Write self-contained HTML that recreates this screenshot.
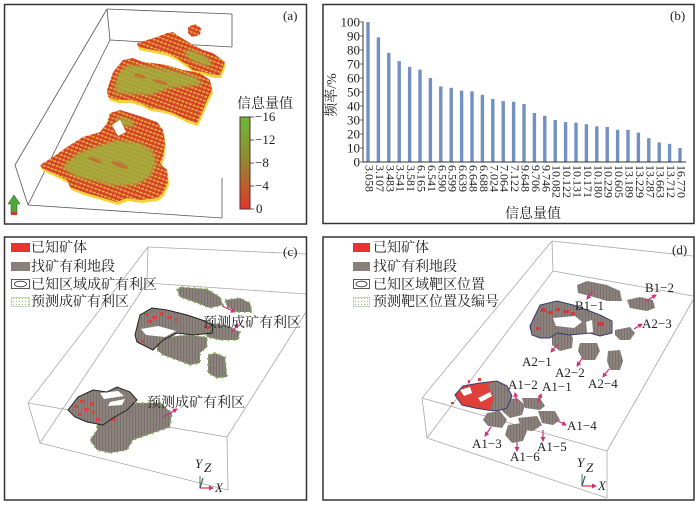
<!DOCTYPE html>
<html><head><meta charset="utf-8"><style>
html,body{margin:0;padding:0;background:#fff;}
svg{display:block;}
.cj{font-family:"Liberation Serif","Noto Serif CJK SC",serif;}
.n{font-family:"Liberation Serif",serif;}
</style></head><body>
<svg width="700" height="505" viewBox="0 0 700 505" xmlns="http://www.w3.org/2000/svg">
<defs>
 <pattern id="vx" width="4" height="4" patternUnits="userSpaceOnUse" patternTransform="rotate(20)">
  <rect width="4" height="4" fill="#d9472b"/><rect width="4" height="1.3" fill="#eac03c"/><rect width="1" height="4" fill="#cf3d27"/>
 </pattern>
 <pattern id="vg" width="4" height="4" patternUnits="userSpaceOnUse" patternTransform="rotate(20)">
  <rect width="4" height="4" fill="#8cc544"/><rect width="4" height="1" fill="#c9672f"/><rect width="1" height="4" fill="#a8b23a"/>
 </pattern>
 <linearGradient id="cb" x1="0" y1="0" x2="0" y2="1">
  <stop offset="0" stop-color="#6cba38"/><stop offset="0.5" stop-color="#958530"/><stop offset="1" stop-color="#e2362a"/>
 </linearGradient>
 <pattern id="gs" width="3" height="3" patternUnits="userSpaceOnUse">
  <rect width="3" height="3" fill="#8c827d"/><rect width="1" height="3" fill="#7a716c"/>
 </pattern>
 <pattern id="dots" width="3" height="3" patternUnits="userSpaceOnUse">
  <rect width="3" height="3" fill="#fbfcf4"/><rect x="1" y="1" width="1" height="1" fill="#9cc47a"/>
 </pattern>
 <filter id="soft" x="-10%" y="-10%" width="120%" height="120%"><feGaussianBlur stdDeviation="1.5"/></filter>
 <marker id="ah" markerWidth="5" markerHeight="5" refX="4" refY="2.5" orient="auto" markerUnits="userSpaceOnUse"><path d="M0,0 L5,2.5 L0,5 z" fill="#d3307a"/></marker>
 <clipPath id="blobs">
  <polygon points="107,90 113,72 123,60 133,58 143,62 152,63 167,65 183,70 200,73 210,80 212,90 207,100 203,110 197,123 187,120 173,113 163,110 150,108 140,103 130,100 117,100 108,97"/>
  <polygon points="40,165 53,157 67,147 83,137 100,132 107,123 110,113 120,110 130,113 143,117 157,122 163,130 165,143 163,157 160,163 167,170 168,182 163,193 157,198 140,200 127,198 117,202 100,197 83,192 70,187 67,180 53,173 42,168"/>
  <polygon points="137,43 157,37 167,33 173,32 180,37 190,43 203,50 213,53 225,62 220,75 213,75 203,72 193,70 187,65 177,58 167,53 153,50 138,47"/>
 </clipPath>
</defs>

<rect width="700" height="505" fill="#fff"/>

<!-- ================= PANEL A ================= -->
<g stroke="#555" stroke-width="0.8" fill="none">
 <line x1="107" y1="9" x2="232" y2="14"/>
 <line x1="107" y1="9" x2="15" y2="165"/>
 <line x1="107" y1="9" x2="110" y2="40"/>
 <line x1="110" y1="40" x2="232" y2="47"/>
 <line x1="110" y1="40" x2="28" y2="205"/>
 <line x1="15" y1="165" x2="28" y2="205"/>
 <line x1="28" y1="205" x2="222" y2="218"/>
 <line x1="222" y1="178" x2="222" y2="218"/>
 <line x1="232" y1="14" x2="232" y2="47"/>
</g>
<g fill="#f2d43a" transform="translate(1,3)">
 <polygon points="137,43 157,37 167,33 173,32 180,37 190,43 203,50 213,53 225,62 220,75 213,75 203,72 193,70 187,65 177,58 167,53 153,50 138,47"/>
 <polygon points="107,90 113,72 123,60 133,58 143,62 152,63 167,65 183,70 200,73 210,80 212,90 207,100 203,110 197,123 187,120 173,113 163,110 150,108 140,103 130,100 117,100 108,97"/>
 <polygon points="40,165 53,157 67,147 83,137 100,132 107,123 110,113 120,110 130,113 143,117 157,122 163,130 165,143 163,157 160,163 167,170 168,182 163,193 157,198 140,200 127,198 117,202 100,197 83,192 70,187 67,180 53,173 42,168"/>
</g>
<g fill="url(#vx)">
 <polygon points="137,43 157,37 167,33 173,32 180,37 190,43 203,50 213,53 225,62 220,75 213,75 203,72 193,70 187,65 177,58 167,53 153,50 138,47"/>
 <polygon points="188,27 195,24 201,28 200,35 192,37 188,33"/>
 <polygon points="107,90 113,72 123,60 133,58 143,62 152,63 167,65 183,70 200,73 210,80 212,90 207,100 203,110 197,123 187,120 173,113 163,110 150,108 140,103 130,100 117,100 108,97"/>
 <polygon points="40,165 53,157 67,147 83,137 100,132 107,123 110,113 120,110 130,113 143,117 157,122 163,130 165,143 163,157 160,163 167,170 168,182 163,193 157,198 140,200 127,198 117,202 100,197 83,192 70,187 67,180 53,173 42,168"/>
</g>
<g clip-path="url(#blobs)">
 <g fill="url(#vg)" opacity="0.85" filter="url(#soft)">
  <polygon points="115,88 118,74 127,65 145,66 170,70 196,77 203,84 192,86 170,88 150,95 130,94 116,93"/>
  <polygon points="62,167 78,153 100,145 118,140 140,143 153,151 156,164 150,177 136,185 115,186 94,181 76,177"/>
  <ellipse cx="198" cy="58" rx="15" ry="5" transform="rotate(25 198 58)"/>
  <ellipse cx="125" cy="122" rx="10" ry="4" transform="rotate(15 125 122)"/>
 </g>
 <g fill="#d9472b" opacity="0.5">
  <ellipse cx="160" cy="82" rx="8" ry="2" transform="rotate(15 160 82)"/>
  <ellipse cx="140" cy="76" rx="6" ry="2" transform="rotate(15 140 76)"/>
  <ellipse cx="120" cy="165" rx="9" ry="2.5" transform="rotate(20 120 165)"/>
  <ellipse cx="95" cy="160" rx="7" ry="2" transform="rotate(20 95 160)"/>
 </g>
</g>
<polygon points="112,125 120,120 126,132 118,136" fill="#fff"/>
<polygon points="14,195 8,204 11,204 11,214 17,214 17,204 20,204" fill="#4ea83a" stroke="#2e6e22" stroke-width="0.6"/>
<rect x="11" y="212" width="6" height="3" fill="#c83a2a"/>
<text x="237" y="108" class="cj" font-size="14" fill="#222">信息量值</text>
<rect x="240" y="117" width="10" height="92" fill="url(#cb)" stroke="#5a3030" stroke-width="1"/>
<g stroke="#333" stroke-width="0.8">
 <line x1="250" y1="117" x2="254" y2="117"/><line x1="250" y1="140" x2="254" y2="140"/>
 <line x1="250" y1="163" x2="254" y2="163"/><line x1="250" y1="186" x2="254" y2="186"/>
 <line x1="250" y1="209" x2="254" y2="209"/>
</g>
<g class="n" font-size="13" fill="#222">
 <text x="255" y="121">−16</text><text x="255" y="144">−12</text>
 <text x="255" y="167">−8</text><text x="255" y="190">−4</text><text x="256" y="213">0</text>
</g>
<text x="283" y="20" class="n" font-size="13" fill="#222">(a)</text>
<rect x="4.5" y="4.5" width="302" height="219.5" fill="none" stroke="#333" stroke-width="1.5"/>

<!-- ================= PANEL B ================= -->
<rect x="323" y="4.5" width="371" height="219" fill="none" stroke="#333" stroke-width="1.5"/>
<text x="670" y="20" class="n" font-size="13" fill="#222">(b)</text>
<g class="n" font-size="13" fill="#222" text-anchor="end">
 <text x="360" y="26.5">100</text><text x="360" y="40.5">90</text><text x="360" y="54.5">80</text>
 <text x="360" y="68.5">70</text><text x="360" y="82.5">60</text><text x="360" y="96.5">50</text>
 <text x="360" y="110.5">40</text><text x="360" y="124.5">30</text><text x="360" y="138.5">20</text>
 <text x="360" y="152.5">10</text><text x="360" y="166.5">0</text>
</g>
<text transform="translate(336,95) rotate(-90)" class="cj" font-size="14" fill="#222" text-anchor="middle">频率/%</text>
<g fill="#7290c2">
 <rect x="366.3" y="22" width="3.4" height="140"/>
 <rect x="376.7" y="37.4" width="3.4" height="124.6"/>
 <rect x="387.1" y="52.8" width="3.4" height="109.2"/>
 <rect x="397.5" y="61.2" width="3.4" height="100.8"/>
 <rect x="407.9" y="66.8" width="3.4" height="95.2"/>
 <rect x="418.3" y="69.6" width="3.4" height="92.4"/>
 <rect x="428.7" y="78" width="3.4" height="84"/>
 <rect x="439.1" y="86.4" width="3.4" height="75.6"/>
 <rect x="449.5" y="87.8" width="3.4" height="74.2"/>
 <rect x="459.9" y="90.6" width="3.4" height="71.4"/>
 <rect x="470.3" y="91.3" width="3.4" height="70.7"/>
 <rect x="480.7" y="94.8" width="3.4" height="67.2"/>
 <rect x="491.1" y="99" width="3.4" height="63"/>
 <rect x="501.5" y="101.1" width="3.4" height="60.9"/>
 <rect x="511.9" y="101.8" width="3.4" height="60.2"/>
 <rect x="522.3" y="103.9" width="3.4" height="58.1"/>
 <rect x="532.7" y="113" width="3.4" height="49"/>
 <rect x="543.1" y="115.8" width="3.4" height="46.2"/>
 <rect x="553.5" y="120" width="3.4" height="42"/>
 <rect x="563.9" y="122.1" width="3.4" height="39.9"/>
 <rect x="574.3" y="122.8" width="3.4" height="39.2"/>
 <rect x="584.7" y="124.2" width="3.4" height="37.8"/>
 <rect x="595.1" y="126.3" width="3.4" height="35.7"/>
 <rect x="605.5" y="127" width="3.4" height="35"/>
 <rect x="615.9" y="129.8" width="3.4" height="32.2"/>
 <rect x="626.3" y="129.8" width="3.4" height="32.2"/>
 <rect x="636.7" y="132.6" width="3.4" height="29.4"/>
 <rect x="647.1" y="138.2" width="3.4" height="23.8"/>
 <rect x="657.5" y="142.4" width="3.4" height="19.6"/>
 <rect x="667.9" y="143.8" width="3.4" height="18.2"/>
 <rect x="678.3" y="148" width="3.4" height="14"/>
</g>
<g stroke="#333" stroke-width="1">
 <line x1="363" y1="21.5" x2="363" y2="162.5"/>
 <line x1="362.5" y1="162" x2="686" y2="162"/>
</g>
<g stroke="#333" stroke-width="0.7">
 <line x1="360" y1="22" x2="363" y2="22"/><line x1="360" y1="36" x2="363" y2="36"/><line x1="360" y1="50" x2="363" y2="50"/>
 <line x1="360" y1="64" x2="363" y2="64"/><line x1="360" y1="78" x2="363" y2="78"/><line x1="360" y1="92" x2="363" y2="92"/>
 <line x1="360" y1="106" x2="363" y2="106"/><line x1="360" y1="120" x2="363" y2="120"/><line x1="360" y1="134" x2="363" y2="134"/>
 <line x1="360" y1="148" x2="363" y2="148"/><line x1="360" y1="162" x2="363" y2="162"/>
</g>
<g class="n" font-size="12" fill="#222">
 <text transform="translate(365.5,165) rotate(90)">3.058</text>
 <text transform="translate(375.9,165) rotate(90)">3.107</text>
 <text transform="translate(386.3,165) rotate(90)">3.483</text>
 <text transform="translate(396.7,165) rotate(90)">3.541</text>
 <text transform="translate(407.1,165) rotate(90)">3.581</text>
 <text transform="translate(417.5,165) rotate(90)">6.165</text>
 <text transform="translate(427.9,165) rotate(90)">6.541</text>
 <text transform="translate(438.3,165) rotate(90)">6.590</text>
 <text transform="translate(448.7,165) rotate(90)">6.599</text>
 <text transform="translate(459.1,165) rotate(90)">6.639</text>
 <text transform="translate(469.5,165) rotate(90)">6.648</text>
 <text transform="translate(479.9,165) rotate(90)">6.688</text>
 <text transform="translate(490.3,165) rotate(90)">7.024</text>
 <text transform="translate(500.7,165) rotate(90)">7.064</text>
 <text transform="translate(511.1,165) rotate(90)">7.122</text>
 <text transform="translate(521.5,165) rotate(90)">9.648</text>
 <text transform="translate(531.9,165) rotate(90)">9.706</text>
 <text transform="translate(542.3,165) rotate(90)">9.746</text>
 <text transform="translate(552.7,165) rotate(90)">10.082</text>
 <text transform="translate(563.1,165) rotate(90)">10.122</text>
 <text transform="translate(573.5,165) rotate(90)">10.131</text>
 <text transform="translate(583.9,165) rotate(90)">10.171</text>
 <text transform="translate(594.3,165) rotate(90)">10.180</text>
 <text transform="translate(604.7,165) rotate(90)">10.229</text>
 <text transform="translate(615.1,165) rotate(90)">10.605</text>
 <text transform="translate(625.5,165) rotate(90)">13.189</text>
 <text transform="translate(635.9,165) rotate(90)">13.229</text>
 <text transform="translate(646.3,165) rotate(90)">13.287</text>
 <text transform="translate(656.7,165) rotate(90)">13.663</text>
 <text transform="translate(667.1,165) rotate(90)">13.712</text>
 <text transform="translate(677.5,165) rotate(90)">16.770</text>
</g>
<text x="533" y="218" class="cj" font-size="14" fill="#222" text-anchor="middle">信息量值</text>

<!-- ================= PANEL C ================= -->
<g stroke="#a8a8a8" stroke-width="0.8" fill="none">
 <line x1="148" y1="247" x2="306" y2="254"/>
 <line x1="148" y1="247" x2="147" y2="283"/>
 <line x1="147" y1="283" x2="306" y2="294"/>
 <line x1="148" y1="247" x2="28" y2="403"/>
 <line x1="147" y1="283" x2="40" y2="443"/>
 <line x1="28" y1="403" x2="40" y2="443"/>
 <line x1="28" y1="403" x2="227" y2="437"/>
 <line x1="40" y1="443" x2="228" y2="490"/>
 <line x1="227" y1="437" x2="228" y2="490"/>
 <line x1="306" y1="312" x2="227" y2="437"/>
</g>
<g fill="url(#gs)" stroke="#7ab648" stroke-width="2" stroke-dasharray="1.5 4.5">
 <polygon points="177,290 180,287 207,289 220,297 223,305 210,308 197,303 180,297"/>
 <polygon points="225,300 240,298 250,303 252,312 237,312 227,307"/>
 <polygon points="157,343 167,337 187,335 207,337 207,347 200,353 200,363 190,365 177,360 163,355 157,350"/>
 <polygon points="205,323 227,325 240,332 238,340 220,340 207,337"/>
 <polygon points="208,355 215,353 225,357 227,377 217,378 208,373"/>
 <polygon points="97,417 113,407 137,403 160,403 172,413 170,427 153,433 133,440 127,450 110,453 97,450 90,440 97,430"/>
</g>
<polygon points="135,335 140,315 152,308 167,310 187,315 202,320 213,325 212,333 193,335 177,333 163,340 153,350 137,342" fill="url(#gs)"/>
<polygon points="141,329 158,326 176,331 165,337 146,335" fill="#fff"/>
<g fill="#d9443a">
 <rect x="145" y="313" width="4" height="3"/><rect x="152" y="316" width="5" height="3"/><rect x="160" y="312" width="4" height="4"/>
 <rect x="167" y="316" width="5" height="3"/><rect x="175" y="318" width="3" height="3"/><rect x="148" y="320" width="4" height="3"/>
 <rect x="205" y="326" width="4" height="3"/><rect x="141" y="340" width="3" height="3"/>
</g>
<polygon points="135,335 140,315 152,308 167,310 187,315 202,320 213,325 212,333 193,335 177,333 163,340 153,350 137,342" fill="none" stroke="#222" stroke-width="1"/>
<polygon points="68,410 78,397 93,390 107,392 117,387 130,392 137,400 127,410 113,418 103,425 87,422 75,417" fill="url(#gs)"/>
<polygon points="100,393 118,391 124,396 104,399" fill="#fff"/>
<polygon points="110,402 125,399 122,405 108,406" fill="#fff"/>
<g fill="#d9443a">
 <rect x="74" y="405" width="4" height="3"/><rect x="80" y="400" width="4" height="3"/><rect x="84" y="408" width="5" height="3"/>
 <rect x="90" y="402" width="4" height="4"/><rect x="78" y="413" width="4" height="3"/><rect x="92" y="411" width="3" height="3"/>
 <rect x="96" y="418" width="4" height="3"/><rect x="112" y="417" width="4" height="4"/>
</g>
<polygon points="68,410 78,397 93,390 107,392 117,387 130,392 137,400 127,410 113,418 103,425 87,422 75,417" fill="none" stroke="#222" stroke-width="1"/>
<g stroke="#d3307a" stroke-width="1.2" marker-end="url(#ah)">
 <line x1="222" y1="306" x2="235" y2="312"/>
 <line x1="232" y1="332" x2="238" y2="324"/>
 <line x1="163" y1="417" x2="177" y2="409"/>
</g>
<g class="cj" font-size="14" fill="#222">
 <text x="203" y="327">预测成矿有利区</text>
 <text x="147" y="407">预测成矿有利区</text>
</g>
<rect x="11" y="243" width="19" height="9" fill="#e5352b"/>
<rect x="11" y="262" width="19" height="9" fill="#8a807b"/>
<rect x="11.5" y="279.5" width="18" height="9" fill="#fff" stroke="#333" stroke-width="0.8"/>
<ellipse cx="20.5" cy="284" rx="6" ry="2.8" fill="none" stroke="#333" stroke-width="0.8"/>
<rect x="11.5" y="297.5" width="18" height="9" fill="url(#dots)" stroke="#888" stroke-width="0.8" stroke-dasharray="1 1"/>
<g class="cj" font-size="14" fill="#222">
 <text x="31" y="252">已知矿体</text>
 <text x="31" y="271">找矿有利地段</text>
 <text x="31" y="289">已知区域成矿有利区</text>
 <text x="31" y="306">预测成矿有利区</text>
</g>
<g stroke-width="1.2" fill="none">
 <line x1="200" y1="488" x2="213" y2="488" stroke="#e03030" marker-end="url(#ah)"/>
 <line x1="200" y1="488" x2="200" y2="476" stroke="#5a9a3a"/>
 <line x1="200" y1="488" x2="203" y2="478" stroke="#3050a0"/>
</g>
<g class="n" font-size="13" font-style="italic" fill="#222">
 <text x="195" y="468">Y</text><text x="204" y="472">Z</text><text x="215" y="492">X</text>
</g>
<text x="283" y="256" class="n" font-size="13" fill="#222">(c)</text>
<rect x="4.5" y="237" width="302" height="263" fill="none" stroke="#333" stroke-width="1.5"/>

<!-- ================= PANEL D ================= -->
<g stroke="#a8a8a8" stroke-width="0.8" fill="none">
 <line x1="552" y1="241" x2="693" y2="256"/>
 <line x1="552" y1="241" x2="553" y2="271"/>
 <line x1="553" y1="271" x2="693" y2="296"/>
 <line x1="552" y1="241" x2="422" y2="398"/>
 <line x1="553" y1="271" x2="427" y2="438"/>
 <line x1="422" y1="398" x2="427" y2="438"/>
 <line x1="422" y1="398" x2="607" y2="451"/>
 <line x1="427" y1="438" x2="607" y2="498"/>
 <line x1="607" y1="451" x2="607" y2="498"/>
 <line x1="693" y1="300" x2="607" y2="451"/>
</g>
<g fill="url(#gs)">
 <polygon points="577,285 587,281 607,285 620,291 622,301 607,301 590,296 578,293"/>
 <polygon points="627,300 640,297 653,300 655,308 647,311 630,308"/>
 <polygon points="552,330 568,330 573,338 572,348 560,351 552,345"/>
 <polygon points="580,343 597,343 600,351 595,360 583,360 578,351"/>
 <polygon points="615,330 630,327 635,333 630,340 620,340 615,335"/>
 <polygon points="608,351 620,350 623,361 620,370 610,370 607,361"/>
 <polygon points="500,401 517,398 525,405 522,415 510,418 502,411"/>
 <polygon points="522,398 540,398 545,406 540,410 525,408"/>
 <polygon points="538,411 555,411 560,420 553,425 542,423"/>
 <polygon points="487,413 500,411 507,420 502,428 488,426 483,420"/>
 <polygon points="508,425 522,423 527,431 523,441 512,443 505,435"/>
 <polygon points="518,418 537,416 542,425 533,431 522,430"/>
</g>
<polygon points="530,326 540,305 557,301 573,305 587,310 600,315 612,321 612,333 600,336 590,333 570,335 557,333 550,338 540,338 532,335" fill="url(#gs)"/>
<polygon points="553,318 575,316 582,322 574,328 556,326" fill="#fff"/>
<polygon points="586,322 592,320 593,332 587,333" fill="#fff"/>
<g fill="#d03a3a">
 <rect x="541" y="308" width="5" height="4"/><rect x="548" y="311" width="5" height="3"/><rect x="556" y="308" width="4" height="3"/>
 <rect x="563" y="310" width="6" height="3"/><rect x="571" y="312" width="4" height="3"/><rect x="598" y="322" width="6" height="4"/>
 <rect x="536" y="327" width="4" height="3"/>
</g>
<polygon points="530,326 540,305 557,301 573,305 587,310 600,315 612,321 612,333 600,336 590,333 570,335 557,333 550,338 540,338 532,335" fill="none" stroke="#3a3a6e" stroke-width="1"/>
<polygon points="455,395 463,386 480,383 497,381 507,386 512,396 507,408 497,411 487,410 475,408 462,405" fill="#e0403a"/>
<polygon points="488,384 497,381 507,386 512,396 507,408 497,411 490,410 494,398" fill="url(#gs)"/>
<polygon points="460,390 470,387 472,393 464,396" fill="#fff"/>
<polygon points="478,398 490,392 492,396 481,402" fill="#fff"/>
<polygon points="455,395 463,386 480,383 497,381 507,386 512,396 507,408 497,411 487,410 475,408 462,405" fill="none" stroke="#3a3a6e" stroke-width="1"/>
<g fill="#e0403a"><rect x="451" y="402" width="3" height="2"/><rect x="478" y="378" width="3" height="3"/><rect x="468" y="380" width="2" height="3"/></g>
<g stroke="#d3307a" stroke-width="1.2" marker-end="url(#ah)">
 <line x1="593" y1="291" x2="587" y2="299"/>
 <line x1="646" y1="301" x2="656" y2="295"/>
 <line x1="634" y1="329" x2="642" y2="324"/>
 <line x1="558" y1="344" x2="551" y2="352"/>
 <line x1="583" y1="357" x2="577" y2="366"/>
 <line x1="609" y1="369" x2="603" y2="377"/>
 <line x1="517" y1="402" x2="515" y2="393"/>
 <line x1="538" y1="403" x2="541" y2="394"/>
 <line x1="556" y1="420" x2="566" y2="425"/>
 <line x1="491" y1="427" x2="485" y2="436"/>
 <line x1="543" y1="430" x2="543" y2="441"/>
 <line x1="517" y1="442" x2="517" y2="451"/>
</g>
<g class="n" font-size="13" fill="#222">
 <text x="645" y="292">B1−2</text>
 <text x="575" y="310">B1−1</text>
 <text x="642" y="328">A2−3</text>
 <text x="522" y="366">A2−1</text>
 <text x="555" y="377">A2−2</text>
 <text x="588" y="388">A2−4</text>
 <text x="508" y="389">A1−2</text>
 <text x="542" y="391">A1−1</text>
 <text x="567" y="430">A1−4</text>
 <text x="472" y="448">A1−3</text>
 <text x="537" y="451">A1−5</text>
 <text x="510" y="461">A1−6</text>
</g>
<rect x="353" y="243" width="17" height="9" fill="#e5352b"/>
<rect x="353" y="262" width="17" height="9" fill="#8a807b"/>
<rect x="353.5" y="279.5" width="16" height="9" fill="#fff" stroke="#333" stroke-width="0.8"/>
<ellipse cx="361.5" cy="284" rx="5.5" ry="2.8" fill="none" stroke="#333" stroke-width="0.8"/>
<rect x="353.5" y="297.5" width="16" height="9" fill="url(#dots)" stroke="#888" stroke-width="0.8" stroke-dasharray="1 1"/>
<g class="cj" font-size="14" fill="#222">
 <text x="373" y="252">已知矿体</text>
 <text x="373" y="271">找矿有利地段</text>
 <text x="373" y="289">已知区域靶区位置</text>
 <text x="373" y="306">预测靶区位置及编号</text>
</g>
<g stroke-width="1.2" fill="none">
 <line x1="582" y1="486" x2="596" y2="486" stroke="#e03030" marker-end="url(#ah)"/>
 <line x1="582" y1="486" x2="582" y2="474" stroke="#5a9a3a"/>
 <line x1="582" y1="486" x2="585" y2="476" stroke="#3050a0"/>
</g>
<g class="n" font-size="13" font-style="italic" fill="#222">
 <text x="577" y="467">Y</text><text x="586" y="472">Z</text><text x="598" y="490">X</text>
</g>
<text x="672" y="254" class="n" font-size="13" fill="#222">(d)</text>
<rect x="323" y="237" width="371" height="263" fill="none" stroke="#333" stroke-width="1.5"/>
</svg>
</body></html>
